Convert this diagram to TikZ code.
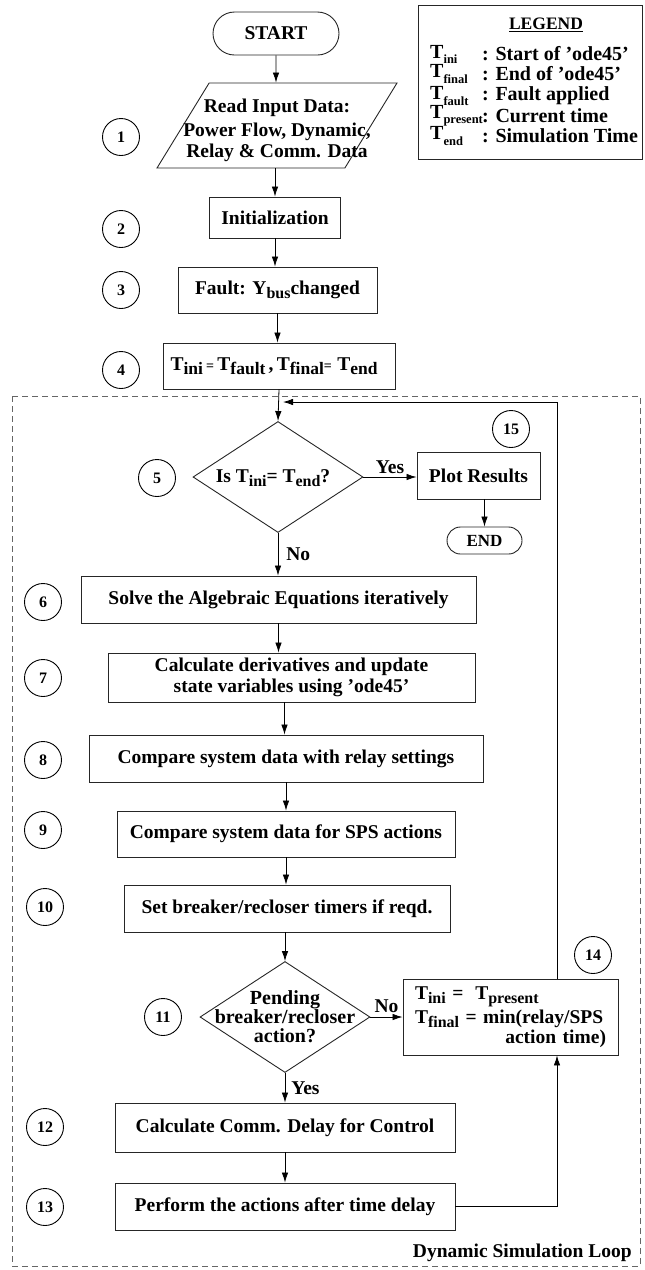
\documentclass[tikz,border=0pt]{standalone}
\usepackage{fontspec}
\setmainfont{Liberation Serif}
\usetikzlibrary{shapes.geometric,shapes.misc,arrows.meta}

% lowered subscripts in the bold text
\newcommand\sub[1]{\raisebox{-0.45ex}{\fontsize{16}{16}\selectfont #1}}
\newcommand\bsub[1]{\raisebox{-0.45ex}{\fontsize{17.5}{17.5}\selectfont #1}}
\newcommand\lsub[1]{\raisebox{-0.55ex}{\fontsize{12.5}{12.5}\selectfont #1}}
\newcommand\smeq{{\fontsize{14}{14}\selectfont =}}

\tikzset{
  flow/.style={draw=black!85, line width=0.9pt, inner sep=2pt, align=center},
  stepbox/.style={flow, rectangle},
  term/.style={flow, rounded rectangle},
  decision/.style={flow, diamond, inner sep=0pt},
  iobox/.style={flow, trapezium, trapezium left angle=69, trapezium right angle=111,
                trapezium stretches=true},
  num/.style={draw, circle, line width=0.9pt, minimum size=37pt, inner sep=0pt,
              font=\bfseries\fontsize{16}{16}\selectfont},
  arr/.style={-{Latex[length=10pt,width=6.5pt]}, line width=0.8pt},
  lab/.style={inner sep=0pt},
  legtext/.style={inner sep=0pt, anchor=west, font=\bfseries\fontsize{20}{20}\selectfont},
  loopframe/.style={draw=black!60, line width=0.8pt, dash pattern=on 6pt off 4pt},
}

\begin{document}
\begin{tikzpicture}[x=1pt,y=-1pt,font=\bfseries\fontsize{19.5}{20.5}\selectfont]
\useasboundingbox (0,0) rectangle (645,1270);

% legend
\node[draw=black!85, line width=0.9pt, minimum width=224pt, minimum height=154pt] (legend) at (530,82) {};
\node[lab, font=\bfseries\fontsize{17.5}{17.5}\selectfont] (lgt) at (546,25) {\underline{LEGEND}};
\node[legtext] (l1a) at (430,54) {T\lsub{ini}};
\node[legtext] (l1b) at (482,54) {: Start of 'ode45'};
\node[legtext] (l2a) at (430,74) {T\lsub{final}};
\node[legtext] (l2b) at (482,74) {: End of 'ode45'};
\node[legtext] (l3a) at (430,96) {T\lsub{fault}};
\node[legtext] (l3b) at (482,96) {: Fault applied};
\node[legtext] (l4a) at (430,116) {T\lsub{present}};
\node[legtext] (l4b) at (482,116) {: Current time};
\node[legtext] (l5a) at (430,136) {T\lsub{end}};
\node[legtext] (l5b) at (482,136) {: Simulation Time};

% dynamic simulation loop frame
\draw[loopframe] (12,396) rectangle (640,1266);
\node[lab, anchor=east] (looplab) at (632,1253) {Dynamic Simulation Loop};

% flow chart blocks
\node[term, minimum width=130pt, minimum height=43pt] (start) at (276,33.5) {START};
\node[iobox, minimum width=240pt, minimum height=85pt] (read) at (277,125.5) {};
\node[lab, align=center] (readtxt) at (277,130)
  {Read Input Data:\\[4pt] Power Flow, Dynamic,\\ Relay \& Comm. Data};
\node[stepbox, minimum width=131pt, minimum height=41pt] (init) at (275,217.5) {Initialization};
\node[stepbox, minimum width=199pt, minimum height=46pt] (fault) at (277.5,290) {Fault: Y\sub{bus}changed};
\node[stepbox, minimum width=232pt, minimum height=46pt] (tset) at (279,366)
  {T\bsub{ini}\,\smeq\,T\bsub{fault}\,,\,T\bsub{final}\smeq\;T\bsub{end}\hspace*{10pt}};
\node[decision, minimum width=170pt, minimum height=111pt] (done) at (278,477) {};
\node[lab] (donetxt) at (273,478) {Is T\sub{ini}= T\sub{end}?};
\node[stepbox, minimum width=123pt, minimum height=47pt] (plot) at (478.5,475.5) {Plot Results};
\node[term, minimum width=79pt, minimum height=27pt, font=\bfseries\fontsize{17}{17}\selectfont] (stop) at (484.5,540.5) {END};
\node[stepbox, minimum width=395pt, minimum height=47pt] (alg) at (278.5,599.5) {Solve the Algebraic Equations iteratively};
\node[stepbox, minimum width=367pt, minimum height=49pt] (deriv) at (291.5,677.5)
  {Calculate derivatives and update\\ state variables using 'ode45'};
\node[stepbox, minimum width=394pt, minimum height=47pt] (relay) at (286,758.5) {Compare system data with relay settings};
\node[stepbox, minimum width=338pt, minimum height=46pt] (sps) at (286,834) {Compare system data for SPS actions};
\node[stepbox, minimum width=326pt, minimum height=47pt] (timers) at (287,908.5) {Set breaker/recloser timers if reqd.};
\node[decision, minimum width=170pt, minimum height=111pt] (pend) at (285,1017) {};
\node[lab, align=center, font=\bfseries\fontsize{20}{19}\selectfont] (pendtxt) at (285,1017)
  {Pending\\ breaker/recloser\\ action?};
\node[stepbox, minimum width=215pt, minimum height=76pt, text width=191pt, align=left] (upd) at (510.5,1017)
  {T\sub{ini} =\; T\sub{present}\\[2pt] T\sub{final} = min(relay/SPS\\ \hspace*{\fill}action time)};
\node[stepbox, minimum width=340pt, minimum height=49pt] (delay) at (285,1127.5) {Calculate Comm. Delay for Control};
\node[stepbox, minimum width=340pt, minimum height=47pt] (act) at (285,1206.5) {Perform the actions after time delay};

% step numbers
\node[num] (n1) at (121,137) {1};
\node[num] (n2) at (121,229) {2};
\node[num] (n3) at (121,290) {3};
\node[num] (n4) at (121,370) {4};
\node[num] (n5) at (157,478) {5};
\node[num] (n15) at (511,429) {15};
\node[num] (n6) at (43,602) {6};
\node[num] (n7) at (43,678) {7};
\node[num] (n8) at (43,760) {8};
\node[num] (n9) at (43,830) {9};
\node[num] (n10) at (45,907) {10};
\node[num] (n11) at (163,1017) {11};
\node[num] (n14) at (593,955) {14};
\node[num] (n12) at (45,1127) {12};
\node[num] (n13) at (45,1207) {13};

% connectors
\coordinate (merge) at (278,402);
\draw[arr] (start) -- (start.south |- read.north);
\draw[arr] (read.south -| init.north) -- (init.north);
\draw[arr] (init.south) -- (init.south |- fault.north);
\draw[arr] (fault.south) -- (fault.south |- tset.north);
\draw[arr] (tset.south) -- (done.north);
\draw[arr] (done.east) -- (done.east -| plot.west) node[lab, midway, above=3pt] (yes1) {Yes};
\draw[arr] (stop.north |- plot.south) -- (stop.north);
\draw[arr] (done.south) -- (done.south |- alg.north) node[lab, midway, right=8pt] (no1) {No};
\draw[arr] (alg.south) -- (alg.south |- deriv.north);
\draw[arr] ([xshift=-7pt]deriv.south) -- ([xshift=-7pt]deriv.south |- relay.north);
\draw[arr] (relay.south) -- (relay.south |- sps.north);
\draw[arr] (sps.south) -- (sps.south |- timers.north);
\draw[arr] (timers.south -| pend.north) -- (pend.north);
\draw[arr] (pend.east) -- (pend.east -| upd.west) node[lab, midway, above=4pt] (no2) {No};
\draw[arr] (pend.south) -- (pend.south |- delay.north) node[lab, midway, right=6pt] (yes2) {Yes};
\draw[arr] (delay.south) -- (delay.south |- act.north);
\draw[arr] (act.east) -| ([xshift=46.5pt]upd.south);
\draw[arr] ([xshift=46.5pt]upd.north) |- ([xshift=5pt]merge);
\end{tikzpicture}
\end{document}
